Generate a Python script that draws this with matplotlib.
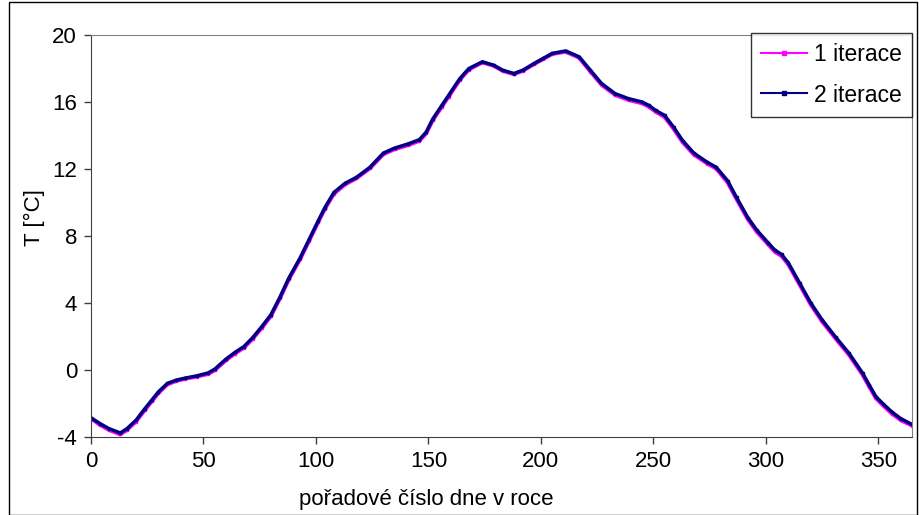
import matplotlib.pyplot as plt
from matplotlib.patches import Rectangle

plt.rcParams['font.family'] = ['Liberation Sans', 'DejaVu Sans']
plt.rcParams['axes.unicode_minus'] = False

# hodnoty (den v roce, teplota)
days = [0, 4, 8, 13, 16, 20, 24, 27, 30, 34, 38, 42, 47, 52, 55, 60, 64, 68, 72, 76,
        80, 84, 88, 93, 97, 101, 104, 108, 113, 118, 124, 130, 135, 141, 146, 149, 152, 156, 159, 164,
        168, 174, 179, 183, 188, 192, 197, 201, 205, 211, 217, 222, 227, 233, 239, 245, 248, 251, 255, 259,
        263, 268, 274, 278, 283, 287, 292, 296, 301, 304, 307, 310, 315, 320, 325, 331, 337, 343, 346, 349,
        352, 356, 360, 365]
t_iter2 = [-2.85, -3.2, -3.5, -3.76, -3.5, -3.0, -2.3, -1.8, -1.3, -0.8, -0.6, -0.48, -0.35, -0.18, 0.05, 0.65, 1.05, 1.4, 1.95, 2.6,
           3.3, 4.35, 5.5, 6.7, 7.8, 8.9, 9.7, 10.6, 11.15, 11.5, 12.1, 12.95, 13.25, 13.5, 13.75, 14.2, 15.0, 15.8, 16.4, 17.4,
           18.0, 18.4, 18.2, 17.9, 17.7, 17.9, 18.3, 18.6, 18.9, 19.05, 18.7, 17.9, 17.1, 16.5, 16.2, 16.0, 15.8, 15.5, 15.2, 14.5,
           13.7, 12.95, 12.4, 12.1, 11.3, 10.3, 9.1, 8.35, 7.6, 7.16, 6.9, 6.4, 5.2, 4.0, 3.0, 1.97, 1.0, -0.18, -0.9, -1.6,
           -2.0, -2.5, -2.9, -3.25]
t_iter1 = [-2.9, -3.28, -3.58, -3.85, -3.58, -3.08, -2.38, -1.88, -1.38, -0.86, -0.65, -0.52, -0.4, -0.24, -0.02, 0.58, 0.98, 1.33, 1.88, 2.52,
           3.22, 4.27, 5.42, 6.62, 7.72, 8.82, 9.62, 10.52, 11.08, 11.44, 12.04, 12.88, 13.18, 13.42, 13.68, 14.12, 14.92, 15.72, 16.32, 17.32,
           17.94, 18.36, 18.16, 17.86, 17.66, 17.86, 18.26, 18.56, 18.86, 19.0, 18.64, 17.82, 17.02, 16.42, 16.12, 15.92, 15.72, 15.42, 15.1, 14.4,
           13.6, 12.86, 12.32, 12.02, 11.2, 10.2, 9.0, 8.25, 7.5, 7.06, 6.8, 6.3, 5.1, 3.9, 2.9, 1.88, 0.9, -0.28, -1.0, -1.7,
           -2.1, -2.6, -3.0, -3.32]

x_ticks = [0, 50, 100, 150, 200, 250, 300, 350]
y_ticks = [-4, 0, 4, 8, 12, 16, 20]

fig = plt.figure(figsize=(9.19, 5.15), dpi=100)
ax = fig.add_axes([91/919, 1-437/515, (912-91)/919, (437-35)/515])

ax.plot(days, t_iter1, color='#FF00FF', lw=2.8, marker='s', ms=1.5, label='1 iterace')
ax.plot(days, t_iter2, color='#000080', lw=2.5, marker='s', ms=1.5, label='2 iterace')

ax.set_xlim(0, 365)
ax.set_ylim(-4, 20)
ax.set_xticks(x_ticks)
ax.set_yticks(y_ticks)
ax.tick_params(direction='out', length=5, width=1, color='#404040', labelsize=16, pad=5)
for s in ['left', 'bottom']:
    ax.spines[s].set_color('#404040')
for s in ['top', 'right']:
    ax.spines[s].set_color('#808080')
ax.set_xlabel('pořadové číslo dne v roce', fontsize=16)
ax.set_ylabel('T [°C]', fontsize=16)
ax.xaxis.set_label_coords((426-91)/821, -(489-437)/402)
ax.yaxis.set_label_coords(-(91-45)/821, 1-(218-35)/402)

leg = fig.legend(loc='upper right', bbox_to_anchor=(912/919, 1-33/515), fontsize=16.5,
                 frameon=True, fancybox=False, borderaxespad=0, handlelength=2.0,
                 labelspacing=0.75, handletextpad=0.3, borderpad=0.45)
leg.get_frame().set_edgecolor('black')
leg.get_frame().set_linewidth(1)
for h in leg.legend_handles:
    h.set_linewidth(1.5)
    h.set_markersize(2.5)

# okraj celého grafu
fig.patches.append(Rectangle((9/919, 0), 908/919, 1-2/515, transform=fig.transFigure,
                             fill=False, edgecolor='black', lw=1))

fig.savefig('out.png', dpi=100)
